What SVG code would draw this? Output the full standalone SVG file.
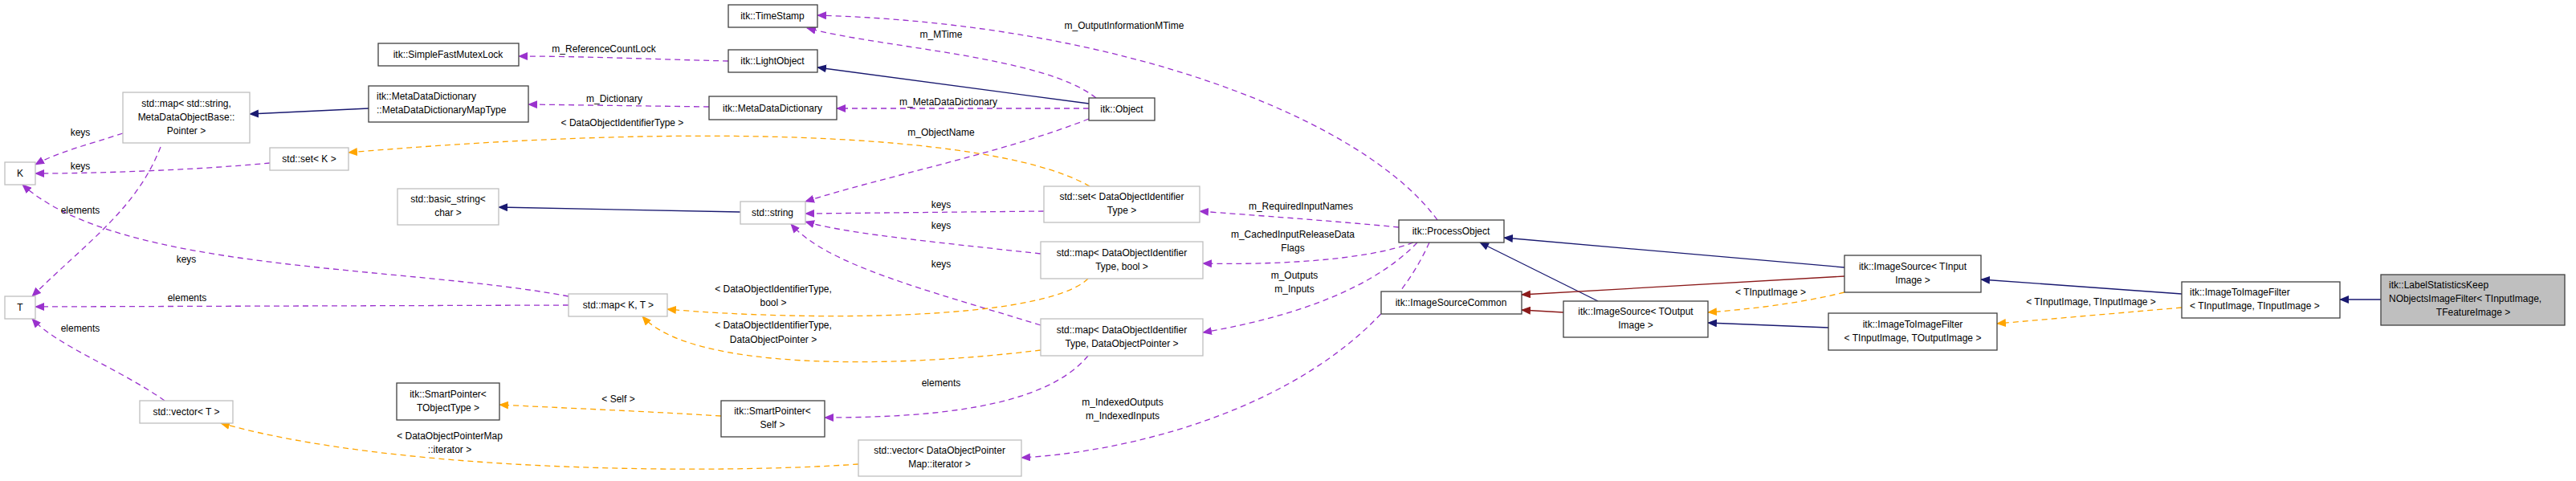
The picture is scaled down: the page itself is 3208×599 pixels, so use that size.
<svg xmlns="http://www.w3.org/2000/svg" width="3208" height="599" viewBox="0 0 3208 599">
<style>
text{font-family:"Liberation Sans",Arial,sans-serif;font-size:12px;fill:#000}
.n rect{fill:#fff;stroke:#404040;stroke-width:1.3}
.g rect{fill:#fff;stroke:#bfbfbf;stroke-width:1.3}
.c text{text-anchor:middle}
.e path{fill:none;stroke-width:1.3}
.p{stroke:#9a32cd;stroke-dasharray:7,5}
.o{stroke:#ffa500;stroke-dasharray:7,5}
.b{stroke:#191970}
.r{stroke:#8b1a1a}
.lbl{text-anchor:middle}
</style>
<defs>
<marker id="ap" markerWidth="12" markerHeight="10" refX="11" refY="5" orient="auto" markerUnits="userSpaceOnUse"><path d="M0,0 L12,5 L0,10 z" fill="#9a32cd"/></marker>
<marker id="ao" markerWidth="12" markerHeight="10" refX="11" refY="5" orient="auto" markerUnits="userSpaceOnUse"><path d="M0,0 L12,5 L0,10 z" fill="#ffa500"/></marker>
<marker id="ab" markerWidth="12" markerHeight="10" refX="11" refY="5" orient="auto" markerUnits="userSpaceOnUse"><path d="M0,0 L12,5 L0,10 z" fill="#191970"/></marker>
<marker id="ar" markerWidth="12" markerHeight="10" refX="11" refY="5" orient="auto" markerUnits="userSpaceOnUse"><path d="M0,0 L12,5 L0,10 z" fill="#8b1a1a"/></marker>
</defs>
<g id="edges" class="e">
<path class="p" marker-end="url(#ap)" d="M907,76 C820,74 730,70 646,70"/>
<path class="p" marker-end="url(#ap)" d="M1365,122 C1300,70 1100,60 1005,35"/>
<path class="p" marker-end="url(#ap)" d="M1790,274 C1700,150 1400,30 1018,19"/>
<path class="b" marker-end="url(#ab)" d="M1356,129 L1018,84"/>
<path class="p" marker-end="url(#ap)" d="M1356,135 L1042,135"/>
<path class="p" marker-end="url(#ap)" d="M883,133 L658,130"/>
<path class="b" marker-end="url(#ab)" d="M459,135 L311,142"/>
<path class="p" marker-end="url(#ap)" d="M153,166 C110,180 70,190 44,205"/>
<path class="p" marker-end="url(#ap)" d="M200,183 C170,260 110,300 40,369"/>
<path class="p" marker-end="url(#ap)" d="M336,203 C240,212 120,216 44,216"/>
<path class="o" marker-end="url(#ao)" d="M1357,232 C1250,170 900,150 434,190"/>
<path class="p" marker-end="url(#ap)" d="M1356,148 C1250,190 1100,220 1003,251"/>
<path class="b" marker-end="url(#ab)" d="M922,264 L621,258"/>
<path class="p" marker-end="url(#ap)" d="M1300,263 L1003,266"/>
<path class="p" marker-end="url(#ap)" d="M1296,316 C1150,300 1050,290 1003,276"/>
<path class="p" marker-end="url(#ap)" d="M1296,405 C1150,360 1030,330 985,279"/>
<path class="p" marker-end="url(#ap)" d="M1742,283 C1660,275 1560,268 1494,263"/>
<path class="p" marker-end="url(#ap)" d="M1760,302 C1700,325 1580,330 1498,328"/>
<path class="p" marker-end="url(#ap)" d="M1765,302 C1700,370 1580,400 1498,414"/>
<path class="p" marker-end="url(#ap)" d="M1780,302 C1700,480 1450,560 1272,570"/>
<path class="p" marker-end="url(#ap)" d="M708,369 C500,330 150,340 28,230"/>
<path class="p" marker-end="url(#ap)" d="M708,380 L44,382"/>
<path class="p" marker-end="url(#ap)" d="M205,499 C150,460 70,430 40,397"/>
<path class="o" marker-end="url(#ao)" d="M1355,347 C1300,400 1000,400 831,385"/>
<path class="o" marker-end="url(#ao)" d="M1296,436 C1100,460 860,460 800,394"/>
<path class="p" marker-end="url(#ap)" d="M1355,443 C1300,510 1150,520 1027,520"/>
<path class="o" marker-end="url(#ao)" d="M898,518 C800,512 700,508 622,504"/>
<path class="o" marker-end="url(#ao)" d="M1069,578 C900,590 500,590 275,527"/>
<path class="b" marker-end="url(#ab)" d="M1990,375 L1843,302"/>
<path class="b" marker-end="url(#ab)" d="M2297,333 L1873,296"/>
<path class="r" marker-end="url(#ar)" d="M2297,344 L1895,367"/>
<path class="r" marker-end="url(#ar)" d="M1947,389 L1895,386"/>
<path class="o" marker-end="url(#ao)" d="M2297,364 C2240,378 2180,385 2127,389"/>
<path class="b" marker-end="url(#ab)" d="M2277,408 L2127,402"/>
<path class="b" marker-end="url(#ab)" d="M2717,366 L2467,348"/>
<path class="o" marker-end="url(#ao)" d="M2717,383 L2487,403"/>
<path class="b" marker-end="url(#ab)" d="M2965,373 L2914,373"/>
</g>
<g id="edge-labels">
<text class="lbl" x="752" y="65">m_ReferenceCountLock</text>
<text class="lbl" x="1172" y="47">m_MTime</text>
<text class="lbl" x="1400" y="36">m_OutputInformationMTime</text>
<text class="lbl" x="1181" y="131">m_MetaDataDictionary</text>
<text class="lbl" x="765" y="127">m_Dictionary</text>
<text class="lbl" x="100" y="169">keys</text>
<text class="lbl" x="100" y="266">elements</text>
<text class="lbl" x="100" y="211">keys</text>
<text class="lbl" x="775" y="157">&lt; DataObjectIdentifierType &gt;</text>
<text class="lbl" x="1172" y="169">m_ObjectName</text>
<text class="lbl" x="1172" y="259">keys</text>
<text class="lbl" x="1172" y="285">keys</text>
<text class="lbl" x="1172" y="333">keys</text>
<text class="lbl" x="1620" y="261">m_RequiredInputNames</text>
<text class="lbl" x="1610" y="296">m_CachedInputReleaseData</text>
<text class="lbl" x="1610" y="313">Flags</text>
<text class="lbl" x="1612" y="347">m_Outputs</text>
<text class="lbl" x="1612" y="364">m_Inputs</text>
<text class="lbl" x="1398" y="505">m_IndexedOutputs</text>
<text class="lbl" x="1398" y="522">m_IndexedInputs</text>
<text class="lbl" x="232" y="327">keys</text>
<text class="lbl" x="233" y="375">elements</text>
<text class="lbl" x="100" y="413">elements</text>
<text class="lbl" x="963" y="364">&lt; DataObjectIdentifierType,</text>
<text class="lbl" x="963" y="381">bool &gt;</text>
<text class="lbl" x="963" y="409">&lt; DataObjectIdentifierType,</text>
<text class="lbl" x="963" y="427">DataObjectPointer &gt;</text>
<text class="lbl" x="1172" y="481">elements</text>
<text class="lbl" x="770" y="501">&lt; Self &gt;</text>
<text class="lbl" x="560" y="547">&lt; DataObjectPointerMap</text>
<text class="lbl" x="560" y="564">::iterator &gt;</text>
<text class="lbl" x="2205" y="368">&lt; TInputImage &gt;</text>
<text class="lbl" x="2604" y="380">&lt; TInputImage, TInputImage &gt;</text>
</g>
<g id="n-mutex" class="n c"><rect x="471" y="54" width="175" height="28"/><text x="558" y="72">itk::SimpleFastMutexLock</text></g>
<g id="n-mapstr" class="g c"><rect x="153" y="115" width="158" height="63"/><text x="232" y="133">std::map&lt; std::string,</text><text x="232" y="150">MetaDataObjectBase::</text><text x="232" y="167">Pointer &gt;</text></g>
<g id="n-maptype" class="n"><rect x="459" y="107" width="199" height="45"/><text x="469" y="124">itk::MetaDataDictionary</text><text x="469" y="141">::MetaDataDictionaryMapType</text></g>
<g id="n-K" class="g c"><rect x="6" y="202" width="38" height="28"/><text x="25" y="220">K</text></g>
<g id="n-setK" class="g c"><rect x="336" y="184" width="98" height="28"/><text x="385" y="202">std::set&lt; K &gt;</text></g>
<g id="n-bstr" class="g c"><rect x="495" y="235" width="126" height="45"/><text x="558" y="252">std::basic_string&lt;</text><text x="558" y="269">char &gt;</text></g>
<g id="n-T" class="g c"><rect x="6" y="369" width="38" height="28"/><text x="25" y="387">T</text></g>
<g id="n-mapKT" class="g c"><rect x="708" y="366" width="123" height="28"/><text x="770" y="384">std::map&lt; K, T &gt;</text></g>
<g id="n-vecT" class="g c"><rect x="174" y="499" width="116" height="28"/><text x="232" y="517">std::vector&lt; T &gt;</text></g>
<g id="n-spT" class="n c"><rect x="494" y="477" width="128" height="46"/><text x="558" y="495">itk::SmartPointer&lt;</text><text x="558" y="512">TObjectType &gt;</text></g>
<g id="n-ts" class="n c"><rect x="907" y="6" width="111" height="28"/><text x="962" y="24">itk::TimeStamp</text></g>
<g id="n-lo" class="n c"><rect x="907" y="62" width="111" height="28"/><text x="962" y="80">itk::LightObject</text></g>
<g id="n-mdd" class="n c"><rect x="883" y="120" width="159" height="29"/><text x="962" y="139">itk::MetaDataDictionary</text></g>
<g id="n-obj" class="n c"><rect x="1356" y="122" width="82" height="28"/><text x="1397" y="140">itk::Object</text></g>
<g id="n-str" class="g c"><rect x="922" y="251" width="81" height="28"/><text x="962" y="269">std::string</text></g>
<g id="n-setD" class="g c"><rect x="1300" y="232" width="194" height="45"/><text x="1397" y="249">std::set&lt; DataObjectIdentifier</text><text x="1397" y="266">Type &gt;</text></g>
<g id="n-mapDb" class="g c"><rect x="1296" y="301" width="202" height="46"/><text x="1397" y="319">std::map&lt; DataObjectIdentifier</text><text x="1397" y="336">Type, bool &gt;</text></g>
<g id="n-mapDP" class="g c"><rect x="1296" y="397" width="202" height="46"/><text x="1397" y="415">std::map&lt; DataObjectIdentifier</text><text x="1397" y="432">Type, DataObjectPointer &gt;</text></g>
<g id="n-spS" class="n c"><rect x="898" y="499" width="129" height="45"/><text x="962" y="516">itk::SmartPointer&lt;</text><text x="962" y="533">Self &gt;</text></g>
<g id="n-vecD" class="g c"><rect x="1069" y="548" width="203" height="45"/><text x="1170" y="565">std::vector&lt; DataObjectPointer</text><text x="1170" y="582">Map::iterator &gt;</text></g>
<g id="n-po" class="n c"><rect x="1742" y="274" width="131" height="28"/><text x="1807" y="292">itk::ProcessObject</text></g>
<g id="n-isc" class="n c"><rect x="1720" y="363" width="175" height="28"/><text x="1807" y="381">itk::ImageSourceCommon</text></g>
<g id="n-isO" class="n c"><rect x="1947" y="375" width="180" height="45"/><text x="2037" y="392">itk::ImageSource&lt; TOutput</text><text x="2037" y="409">Image &gt;</text></g>
<g id="n-isI" class="n c"><rect x="2297" y="318" width="170" height="46"/><text x="2382" y="336">itk::ImageSource&lt; TInput</text><text x="2382" y="353">Image &gt;</text></g>
<g id="n-itiO" class="n c"><rect x="2277" y="390" width="210" height="46"/><text x="2382" y="408">itk::ImageToImageFilter</text><text x="2382" y="425">&lt; TInputImage, TOutputImage &gt;</text></g>
<g id="n-itiI" class="n"><rect x="2717" y="351" width="197" height="45"/><text x="2727" y="368">itk::ImageToImageFilter</text><text x="2727" y="385">&lt; TInputImage, TInputImage &gt;</text></g>
<g id="n-lsk"><rect x="2965" y="342" width="229" height="63" fill="#bfbfbf" stroke="#404040" stroke-width="1.3"/><text x="2975" y="359">itk::LabelStatisticsKeep</text><text x="2975" y="376">NObjectsImageFilter&lt; TInputImage,</text><text x="3080" y="393" text-anchor="middle">TFeatureImage &gt;</text></g>
</svg>
